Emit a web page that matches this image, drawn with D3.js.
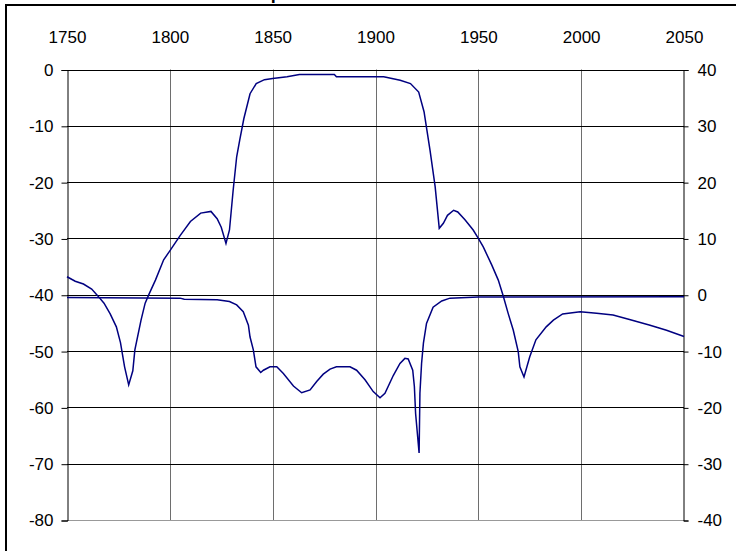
<!DOCTYPE html>
<html>
<head>
<meta charset="utf-8">
<script src="https://cdn.jsdelivr.net/npm/d3@7"></script>
<style>
  html, body { margin: 0; padding: 0; background: #fff; overflow: hidden; }
  svg { display: block; }
  text { font-family: Arial, "Liberation Sans", sans-serif; fill: #000; }
</style>
</head>
<body>
<svg id="chart" width="736" height="551"></svg>
<script>
// ---- data ----
const titleText = "Temperature Anomalies";
const yearTicks = [1750, 1800, 1850, 1900, 1950, 2000, 2050];
const leftTicks = [0, -10, -20, -30, -40, -50, -60, -70, -80];
const rightTicks = [40, 30, 20, 10, 0, -10, -20, -30, -40];

// series plotted on the left axis
const seriesBYears = [1750,1754,1758,1762,1765,1768,1771,1774,1776,1778,1780,1782,1783,1786,1788,1790,1793,1797,1800,1805,1810,1815,1820,1823,1825,1827.3,1829,1830.8,1832.5,1834,1836,1839,1842,1846,1850,1857,1863,1880,1881,1904,1912,1917,1921,1923.6,1926.5,1929,1931,1933,1935,1938,1940,1943.5,1947.5,1950,1952.4,1956.5,1959.7,1962,1964.5,1967,1969.4,1970.2,1972.2,1975,1978,1983,1986.5,1991,1999.5,2007.5,2015.5,2023.5,2033.5,2041.5,2050];
const seriesBValues = [-36.8,-37.6,-38.1,-39.0,-40.2,-41.5,-43.4,-45.7,-48.5,-52.8,-56.0,-53.5,-49.8,-44.5,-41.5,-39.8,-37.4,-33.8,-32.2,-29.5,-27.0,-25.5,-25.2,-26.5,-28.0,-30.9,-28.5,-21.4,-15.5,-12.5,-8.7,-4.3,-2.5,-1.8,-1.6,-1.3,-0.9,-0.9,-1.3,-1.3,-1.9,-2.5,-4.0,-7.5,-14.3,-20.8,-28.2,-27.3,-25.9,-25.0,-25.3,-26.7,-28.5,-30.0,-31.5,-34.7,-37.4,-40.1,-43.3,-46.3,-50.1,-52.8,-54.6,-51.0,-48.0,-45.7,-44.5,-43.4,-43.0,-43.3,-43.6,-44.4,-45.4,-46.3,-47.4];

// series plotted on the right axis
const seriesAYears = [1750,1805,1807,1823,1829,1832.5,1835.7,1838.2,1839,1840.6,1841.9,1844.2,1845.5,1848.7,1852,1855.2,1860.1,1864.1,1868.2,1871.4,1874.6,1877.9,1881,1887.6,1890.8,1894.9,1898.9,1902.2,1904.6,1908.7,1911.9,1914.3,1915.9,1918.1,1918.9,1919.5,1921.2,1921.6,1922.4,1923.3,1924.8,1928,1932.2,1936.2,1950,2050];
const seriesAValues = [-0.5,-0.6,-0.8,-0.9,-1.2,-1.8,-3.0,-5.4,-7.5,-9.8,-12.8,-13.8,-13.4,-12.8,-12.8,-14.0,-16.2,-17.4,-16.9,-15.4,-14.1,-13.2,-12.8,-12.8,-13.4,-15.1,-17.2,-18.3,-17.5,-14.3,-12.2,-11.3,-11.4,-13.4,-16.3,-21.1,-28.1,-17.5,-12.2,-8.6,-5.1,-2.2,-1.1,-0.6,-0.4,-0.35];

// ---- layout ----
const svg = d3.select("#chart");
const plot = { left: 67, right: 684, top: 69.5, bottom: 520 };
const fmt = d => String(d);

const x = d3.scaleLinear().domain([1750, 2050]).range([plot.left, plot.right]);
const yL = d3.scaleLinear().domain([-80, 0]).range([plot.bottom, plot.top]);
const yR = d3.scaleLinear().domain([-40, 40]).range([plot.bottom, plot.top]);

// outer frame
svg.append("rect").attr("x", 6).attr("y", 5).attr("width", 900).attr("height", 900)
  .attr("fill", "none").attr("stroke", "#000").attr("stroke-width", 2);

// title (mostly off the top of the frame, as in the reference)
svg.append("text").attr("x", 235).attr("y", -1)
  .attr("font-size", 18).attr("font-weight", "bold").text(titleText);

// vertical gridlines
const gV = svg.append("g");
yearTicks.filter(d => d > 1750 && d < 2050).forEach(d => {
  gV.append("line").attr("x1", Math.round(x(d)) + 0.5).attr("x2", Math.round(x(d)) + 0.5)
    .attr("y1", plot.top).attr("y2", plot.bottom)
    .attr("stroke", "#6e6e6e").attr("stroke-width", 1);
});

// horizontal gridlines
const gH = svg.append("g");
leftTicks.forEach(d => {
  const yy = Math.round(yL(d)) + 0.5;
  gH.append("line").attr("x1", plot.left).attr("x2", plot.right)
    .attr("y1", yy).attr("y2", yy)
    .attr("stroke", d === -80 ? "#999" : "#000").attr("stroke-width", 1);
});

// left axis
const leftAxis = d3.axisLeft(yL).tickValues(leftTicks).tickSize(6).tickPadding(8).tickFormat(fmt);
const gL = svg.append("g").attr("transform", `translate(${plot.left + 0.5},0.5)`).call(leftAxis);
gL.select(".domain").attr("stroke", "#000");
gL.selectAll("text").attr("font-size", 17).attr("font-family", "Arial, 'Liberation Sans', sans-serif");

// right axis
const rightAxis = d3.axisRight(yR).tickValues(rightTicks).tickSize(5).tickPadding(9).tickFormat(fmt);
const gR = svg.append("g").attr("transform", `translate(${plot.right - 0.5},0.5)`).call(rightAxis);
gR.select(".domain").attr("stroke", "#000");
gR.selectAll("text").attr("font-size", 17).attr("font-family", "Arial, 'Liberation Sans', sans-serif");

// top year labels
const topAxis = d3.axisTop(x).tickValues(yearTicks).tickSize(0).tickPadding(0).tickFormat(fmt);
const gT = svg.append("g").attr("transform", `translate(0,43)`).call(topAxis);
gT.select(".domain").remove();
gT.selectAll("text").attr("font-size", 17).attr("dy", 0).attr("font-family", "Arial, 'Liberation Sans', sans-serif");

// lines
const lineL = d3.line().x(d => x(d[0])).y(d => yL(d[1]));
const lineR = d3.line().x(d => x(d[0])).y(d => yR(d[1]));

svg.append("path").datum(d3.zip(seriesAYears, seriesAValues))
  .attr("d", lineR).attr("fill", "none").attr("stroke", "#000080").attr("stroke-width", 1.5);
svg.append("path").datum(d3.zip(seriesBYears, seriesBValues))
  .attr("d", lineL).attr("fill", "none").attr("stroke", "#000080").attr("stroke-width", 1.5);
</script>
</body>
</html>
